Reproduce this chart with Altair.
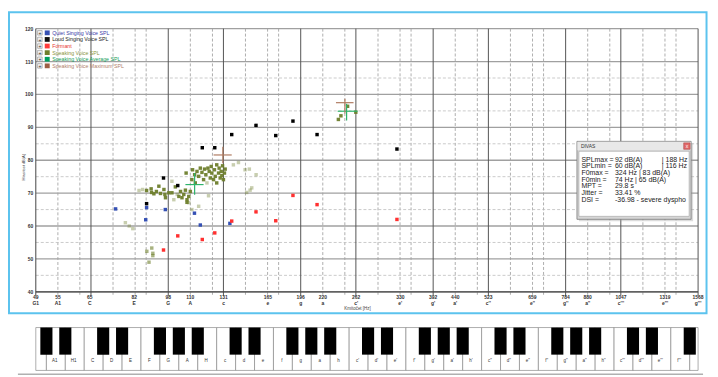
import altair as alt
import pandas as pd

# ---------------- values (Hz, dB(A)) ----------------
quiet_hz = [74.4, 87.5, 87.1, 96.5, 112.4, 115.9, 135.3]
quiet_db = [65.2, 65.6, 61.9, 65.0, 63.9, 60.3, 60.8]

loud_hz = [87.5, 95.6, 103.0, 117.1, 125.0, 136.6, 155.1, 172.0, 188.2, 213.5, 324.3]
loud_db = [66.8, 74.6, 72.3, 83.8, 83.8, 87.8, 90.6, 87.5, 91.9, 87.8, 83.4]

formant_hz = [95.6, 103.0, 117.1, 125.0, 136.6, 155.1, 172.0, 188.2, 213.5, 324.3]
formant_db = [52.7, 57.0, 55.9, 57.9, 61.5, 64.3, 61.6, 69.3, 66.5, 62.0]

speak_hz = [87.5, 89.6, 89.8, 90.9, 92.1, 93.3, 94.1, 95.8, 96.3, 96.6, 98.3, 99.9,
            101.7, 103.6, 104.5, 105.3, 106.3, 107.2, 107.6, 108.1, 108.1, 109.1, 110.0,
            110.9, 111.3, 112.5, 112.9, 113.9, 114.9, 115.9, 116.9, 117.9, 118.5, 119.3,
            120.6, 121.4, 122.1, 122.7, 123.1, 124.2, 124.8, 125.3, 126.3, 126.3, 127.5,
            127.9, 128.6, 129.3, 129.7, 130.2, 130.8, 131.5, 132.0,
            238.7, 241.9, 250.5, 261.5]
speak_db = [70.8, 71.3, 70.2, 69.8, 70.5, 72.1, 69.9, 71.1, 69.6, 68.6, 70.1, 70.1,
            71.9, 69.0, 70.5, 68.6, 69.6, 70.9, 76.1, 68.0, 67.2, 69.0, 70.5,
            74.1, 77.1, 75.6, 73.1, 76.6, 75.1, 77.6, 76.3, 74.1, 77.3, 75.6,
            77.6, 76.6, 74.6, 78.1, 76.1, 74.1, 77.1, 75.1, 78.6, 73.1, 76.1,
            77.6, 74.6, 76.6, 75.3, 78.3, 74.1, 76.1, 77.3,
            92.4, 93.5, 96.4, 94.6]

faint_hz = [84.1, 85.7, 99.9, 100.9, 102.7, 109.1, 110.9, 114.9, 120.0, 121.0,
            137.8, 141.5, 146.5, 149.8, 155.2, 151.7, 150.4, 147.7, 78.3, 79.9, 81.4]
faint_db = [70.8, 71.1, 73.6, 68.0, 69.6, 67.1, 65.0, 66.0, 73.1, 69.2,
            78.6, 79.3, 77.1, 77.3, 75.6, 71.6, 70.9, 70.2, 61.0, 60.0, 59.2]

low_hz = [89.9, 87.6, 90.4, 90.4, 88.6]
low_db = [53.3, 52.3, 51.7, 51.0, 49.0]

avg_hz, avg_db = [112.5, 249.2], [72.6, 94.9]
avg_hz_lo, avg_hz_hi = [107.2, 237.8], [117.9, 263.9]
avg_db_lo, avg_db_hi = [69.5, 92.1], [76.1, 97.2]
max_hz, max_db = [130.4, 247.0], [81.6, 97.5]
max_hz_lo, max_hz_hi = [124.2, 235.7], [136.6, 258.4]
max_db_lo, max_db_hi = [79.1, 94.2], [84.1, 98.7]

tick_hz = [49, 55, 65, 82, 98, 110, 131, 165, 196, 220, 262, 330, 392, 440, 523,
           659, 784, 880, 1047, 1319, 1568]
tick_note = ["G1", "A1", "C", "E", "G", "A", "c", "e", "g", "a", "c'", "e'", "g'", "a'",
             "c''", "e''", "g''", "a''", "c'''", "e'''", "g'''"]
db_ticks = [40, 50, 60, 70, 80, 90, 100, 110, 120]
db_half = [45, 55, 65, 75, 85, 95, 105]

grid_hz = [55, 61.7, 65.4, 73.4, 82.4, 87.3, 98, 110, 123.5, 130.8, 146.8, 164.8, 174.6,
           196, 220, 246.9, 261.6, 293.7, 329.6, 349.2, 392, 440, 493.9, 523.3, 587.3,
           659.3, 698.5, 784, 880, 987.8, 1046.5, 1174.7, 1318.5, 1396.9, 1568]
grid_dark = [65.4, 98, 130.8, 196, 261.6, 392, 523.3, 784, 1046.5, 1568]

key_names = (["G1", "A1", "H1"] + list("CDEFGAH") + list("cdefgah")
             + [n + "'" for n in "cdefgah"] + [n + "''" for n in "cdefgah"]
             + [n + "'''" for n in "cdefg"])

legend_names = ["Quiet Singing Voice SPL", "Loud Singing Voice SPL", "Formant",
                "Speaking Voice SPL", "Speaking Voice Average SPL", "Speaking Voice Maximum SPL"]
legend_sq = ["#3550b4", "#111111", "#ff3b3b", "#6e7e2c", "#00a060", "#9c5e44"]
legend_txt = ["#3a3aa8", "#222222", "#e83434", "#8a943e", "#12a058", "#b0806a"]

info_lab = ["SPLmax =", "SPLmin =", "F0max =", "F0min =", "MPT =", "Jitter =", "DSI ="]
info_val = ["92 dB(A)", "60 dB(A)", "324 Hz | 83 dB(A)", "74 Hz | 65 dB(A)", "29.8 s",
            "33.41 %", "-36.98 - severe dysphonia"]
info_ext = ["| 188 Hz", "| 116 Hz", "", "", "", "", ""]

# ---------------- layout helpers ----------------
W, H = 667, 265
X0, Y0 = 36, 27.5
FONT = "Liberation Sans"
xs = alt.Scale(type="log", base=2, domain=[49, 1568], nice=False)
ys = alt.Scale(domain=[40, 120], nice=False, zero=False)
one = pd.DataFrame({"k": [0]})


def vx(x):
    return alt.value(x - X0)


def vy(y):
    return alt.value(y - Y0)


def box(x1, y1, x2, y2, **kw):
    return alt.Chart(one).mark_rect(**kw).encode(x=vx(x1), x2=vx(x2), y=vy(y1), y2=vy(y2))


def txt(x, y, s, **kw):
    kw.setdefault("font", FONT)
    return alt.Chart(one).mark_text(**kw).encode(x=vx(x), y=vy(y), text=alt.value(s))


def pts(hz, db, color, opacity=1.0, size=12):
    df = pd.DataFrame({"hz": hz, "db": db})
    return alt.Chart(df).mark_square(color=color, opacity=opacity, size=size).encode(
        x=alt.X("hz:Q", scale=xs, axis=None), y=alt.Y("db:Q", scale=ys, axis=None))


layers = []

# outer blue frame
layers.append(box(9, 11, 711.5, 314, fillOpacity=0, stroke="#5cc3ee", strokeWidth=2))

# grid
g = pd.DataFrame({"hz": grid_hz, "dark": [h in grid_dark for h in grid_hz]})
layers.append(alt.Chart(g).transform_filter("!datum.dark").mark_rule(
    color="#9a9a9a", strokeWidth=0.8, strokeDash=[3, 2]).encode(
    x=alt.X("hz:Q", scale=xs, axis=None), y=alt.value(0), y2=alt.value(H + 4)))
layers.append(alt.Chart(pd.DataFrame({"db": db_half})).mark_rule(
    color="#bdbdbd", strokeWidth=0.8, strokeDash=[3, 2]).encode(
    y=alt.Y("db:Q", scale=ys, axis=None), x=alt.value(0), x2=alt.value(W)))
layers.append(alt.Chart(pd.DataFrame({"db": db_ticks})).mark_rule(
    color="#a0a0a0", strokeWidth=1.3).encode(
    y=alt.Y("db:Q", scale=ys, axis=None), x=alt.value(0), x2=alt.value(W)))
layers.append(alt.Chart(g).transform_filter("datum.dark").mark_rule(
    color="#555555", strokeWidth=1).encode(
    x=alt.X("hz:Q", scale=xs, axis=None), y=alt.value(0), y2=alt.value(H + 4)))
# axis lines
layers.append(alt.Chart(one).mark_rule(color="#444444", strokeWidth=1).encode(
    x=alt.value(0), y=alt.value(0), y2=alt.value(H + 4)))
layers.append(alt.Chart(one).mark_rule(color="#444444", strokeWidth=1.2).encode(
    x=alt.value(0), x2=alt.value(W), y=alt.value(H)))

# axis labels
layers.append(alt.Chart(pd.DataFrame({"db": db_ticks})).mark_text(
    font=FONT, fontSize=5, fontWeight="bold", color="#333333", align="right", baseline="middle").encode(
    y=alt.Y("db:Q", scale=ys, axis=None), x=alt.value(-2.5), text=alt.Text("db:Q")))
tk = pd.DataFrame({"hz": tick_hz, "note": tick_note})
layers.append(alt.Chart(tk).mark_text(
    font=FONT, fontSize=5, fontWeight="bold", color="#333333", baseline="middle").encode(
    x=alt.X("hz:Q", scale=xs, axis=None), y=alt.value(270.3), text=alt.Text("hz:Q")))
layers.append(alt.Chart(tk).mark_text(
    font=FONT, fontSize=5, fontWeight="bold", color="#333333", baseline="middle").encode(
    x=alt.X("hz:Q", scale=xs, axis=None), y=alt.value(276.2), text="note:N"))
layers.append(txt(360, 309.8, "Kmitočet [Hz]", fontSize=4.5, color="#444444"))
layers.append(txt(24, 167, "Hlasitost dB(A)", fontSize=4, color="#444444", angle=270))

# data points
layers.append(pts(faint_hz, faint_db, "#6e7e2c", opacity=0.38))
layers.append(pts(low_hz, low_db, "#6e7e2c", opacity=0.6))
layers.append(pts(speak_hz, speak_db, "#6e7e2c", opacity=0.95))
layers.append(pts(quiet_hz, quiet_db, "#3550b4"))
layers.append(pts(loud_hz, loud_db, "#000000"))
layers.append(pts(formant_hz, formant_db, "#ff3030"))

# average / maximum crosses
for hz, db, hlo, hhi, dlo, dhi, col in [
        (avg_hz, avg_db, avg_hz_lo, avg_hz_hi, avg_db_lo, avg_db_hi, "#2db36b"),
        (max_hz, max_db, max_hz_lo, max_hz_hi, max_db_lo, max_db_hi, "#b07c62")]:
    c = pd.DataFrame({"hz": hz, "db": db, "hlo": hlo, "hhi": hhi, "dlo": dlo, "dhi": dhi})
    layers.append(alt.Chart(c).mark_rule(color=col, strokeWidth=1.2).encode(
        x=alt.X("hlo:Q", scale=xs, axis=None), x2="hhi:Q", y=alt.Y("db:Q", scale=ys, axis=None)))
    layers.append(alt.Chart(c).mark_rule(color=col, strokeWidth=1.2).encode(
        x=alt.X("hz:Q", scale=xs, axis=None), y=alt.Y("dlo:Q", scale=ys, axis=None), y2="dhi:Q"))

# legend
for i, (n, sc, tc) in enumerate(zip(legend_names, legend_sq, legend_txt)):
    yy = 31.7 + i * 6.65
    layers.append(box(37.8, yy - 2.3, 42.4, yy + 2.3, fill="#f0f0f0", stroke="#7a7a7a", strokeWidth=0.5))
    layers.append(txt(40.1, yy + 0.2, "+", fontSize=5, color="#222222", baseline="middle"))
    layers.append(box(45, yy - 2.4, 50, yy + 2.4, fill=sc))
    layers.append(txt(52.5, yy, n, fontSize=5.3, color=tc, align="left", baseline="middle"))

# info box
layers.append(box(583, 143, 698, 221.5, fill="#9a9a9a", opacity=0.35))
layers.append(box(581, 141, 696, 219.5, fill="#d6d6d6", stroke="#7a7a7a", strokeWidth=0.8))
layers.append(box(581.5, 141.5, 695.5, 150, fill="#e8e8e8"))
layers.append(box(583, 151, 694, 216.5, fill="#ffffff", stroke="#a0a0a0", strokeWidth=0.6))
layers.append(txt(585, 146, "DIVAS", fontSize=5, color="#333333", align="left", baseline="middle"))
layers.append(box(688.5, 142.5, 695, 149, fill="#e06a6a", stroke="#a33a3a", strokeWidth=0.5))
layers.append(txt(691.8, 145.9, "x", fontSize=5, color="#ffffff", baseline="middle"))
for i in range(len(info_lab)):
    yy = 159.3 + i * 6.75
    layers.append(txt(585.5, yy, info_lab[i], fontSize=7, color="#1a1a1a", align="left", baseline="middle"))
    layers.append(txt(619.3, yy, info_val[i], fontSize=7, color="#1a1a1a", align="left",
                      baseline="middle", limit=77, ellipsis=" "))
    if info_ext[i]:
        layers.append(txt(666.5, yy, info_ext[i], fontSize=7, color="#1a1a1a", align="left", baseline="middle"))

# piano keyboard (one white key per white note, equally spaced like the real keys)
OFF = 0.06
wk = pd.DataFrame({
    "name": key_names,
    "lo": [max(49.0, 49 * 2 ** ((i - 0.5 + OFF) / 7)) for i in range(len(key_names))],
    "hi": [min(1568.0, 49 * 2 ** ((i + 0.5 + OFF) / 7)) for i in range(len(key_names))],
    "mid": [49 * 2 ** (i / 7) for i in range(len(key_names))],
    "show": [0 < i < len(key_names) - 1 for i in range(len(key_names))],
})
layers.append(alt.Chart(wk).mark_rect(fill="#ffffff", stroke="#8a8a8a", strokeWidth=0.7).encode(
    x=alt.X("lo:Q", scale=xs, axis=None), x2="hi:Q", y=vy(328.5), y2=vy(371.7)))
bidx = [i for i in range(len(key_names) - 1) if i % 7 in (0, 1, 3, 4, 6)]
bk = pd.DataFrame({
    "lo": [49 * 2 ** ((i + 0.5 + OFF - 0.32) / 7) for i in bidx],
    "hi": [49 * 2 ** ((i + 0.5 + OFF + 0.32) / 7) for i in bidx],
})
layers.append(alt.Chart(bk).mark_rect(fill="#000000").encode(
    x=alt.X("lo:Q", scale=xs, axis=None), x2="hi:Q", y=vy(328.5), y2=vy(355.8)))
layers.append(alt.Chart(wk).transform_filter("datum.show").mark_text(
    font=FONT, fontSize=4.5, color="#333333", baseline="middle").encode(
    x=alt.X("mid:Q", scale=xs, axis=None), y=vy(362.5), text="name:N"))
layers.append(alt.Chart(one).mark_rule(color="#b0b0b0", strokeWidth=1.5).encode(
    x=vx(18), x2=vx(708), y=vy(375.5)))

chart = alt.layer(*layers).properties(
    width=W, height=H,
    padding={"left": 28, "top": 19.5, "right": 12, "bottom": 84.5},
    autosize=alt.AutoSizeParams(type="none"),
    background="#ffffff",
).configure_view(stroke=None)

chart.save("out.html", embed_options={"renderer": "svg", "actions": False})
